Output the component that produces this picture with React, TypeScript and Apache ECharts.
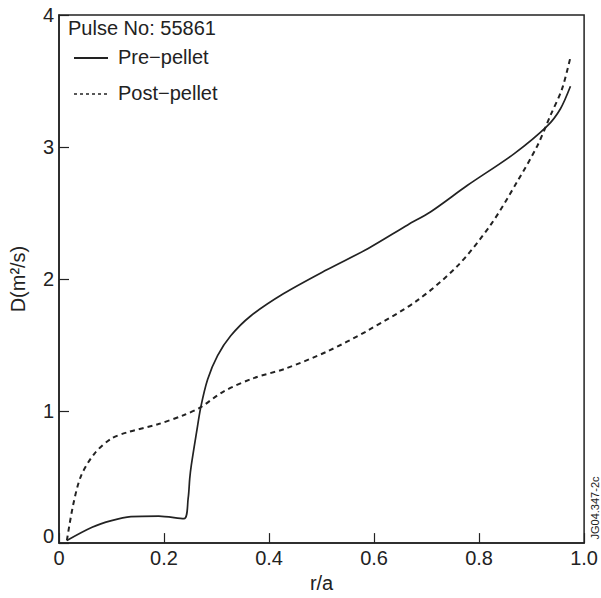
import React, { useEffect, useRef } from "react";
import * as echarts from "echarts";

const xTicks = [0, 0.2, 0.4, 0.6, 0.8, 1.0];
const yTicks = [0, 1, 2, 3, 4];

const preX = [0.015, 0.063, 0.1, 0.137, 0.19, 0.238, 0.246, 0.249, 0.252, 0.262, 0.27, 0.283, 0.302, 0.327, 0.365, 0.428, 0.51, 0.588, 0.664, 0.708, 0.778, 0.867, 0.93, 0.955, 0.974];
const preY = [0.02, 0.12, 0.17, 0.2, 0.205, 0.185, 0.34, 0.49, 0.59, 0.84, 1.03, 1.24, 1.42, 1.57, 1.72, 1.89, 2.07, 2.23, 2.41, 2.51, 2.71, 2.95, 3.16, 3.29, 3.46];

const postX = [0.015, 0.027, 0.042, 0.068, 0.099, 0.131, 0.188, 0.238, 0.27, 0.314, 0.371, 0.43, 0.51, 0.588, 0.683, 0.759, 0.822, 0.873, 0.911, 0.936, 0.958, 0.974];
const postY = [0.02, 0.29, 0.51, 0.68, 0.79, 0.84, 0.9, 0.97, 1.03, 1.15, 1.25, 1.32, 1.45, 1.61, 1.84, 2.1, 2.41, 2.74, 3.01, 3.24, 3.44, 3.68];

const pulseLabel = "Pulse No: 55861";
const seriesNames = ["Pre\u2212pellet", "Post\u2212pellet"];
const xName = "r/a";
const yName = "D(m\u00b2/s)";
const watermark = "JG04.347-2c";

const FONT = "Liberation Sans, Arial, Helvetica, sans-serif";
const INK = "#222";

export default function App() {
  const ref = useRef<HTMLDivElement>(null);
  useEffect(() => {
    if (!ref.current) return;
    const chart = echarts.init(ref.current, null, { renderer: "svg" });
    const pre = preX.map((x, i) => [x, preY[i]]);
    const post = postX.map((x, i) => [x, postY[i]]);
    chart.setOption({
      animation: false,
      backgroundColor: "#fff",
      textStyle: { fontFamily: FONT, color: INK },
      grid: { left: 59, right: 13, top: 15, bottom: 54, show: true, borderColor: INK, borderWidth: 1.5, backgroundColor: "transparent" },
      xAxis: {
        type: "value",
        min: xTicks[0],
        max: xTicks[xTicks.length - 1],
        interval: 0.2,
        name: xName,
        nameLocation: "middle",
        nameGap: 28,
        nameTextStyle: { fontSize: 20, color: INK, fontFamily: FONT },
        axisLine: { show: true, lineStyle: { color: INK, width: 1.5 } },
        axisTick: { show: true, inside: true, length: 10, lineStyle: { color: INK, width: 1.2 } },
        axisLabel: {
          fontSize: 20, color: INK, fontFamily: FONT, margin: 5,
          formatter: (v: number) => (v === 0 ? "0" : v.toFixed(1)),
        },
        splitLine: { show: false },
      },
      yAxis: {
        type: "value",
        min: yTicks[0],
        max: yTicks[yTicks.length - 1],
        interval: 1,
        name: yName,
        nameLocation: "middle",
        nameGap: 31,
        nameRotate: 90,
        nameTextStyle: { fontSize: 20, color: INK, fontFamily: FONT },
        axisLine: { show: true, lineStyle: { color: INK, width: 1.5 } },
        axisTick: { show: true, inside: true, length: 10, lineStyle: { color: INK, width: 1.2 } },
        axisLabel: {
          fontSize: 20, color: INK, fontFamily: FONT, margin: 5,
          formatter: (v: number) => (v === 0 ? "{z|0}" : String(v)),
          rich: { z: { fontSize: 20, color: INK, fontFamily: FONT, padding: [0, 0, 14, 0] } },
        },
        splitLine: { show: false },
      },
      series: [
        {
          name: seriesNames[0],
          type: "line",
          data: pre,
          showSymbol: false,
          smooth: 0.3,
          lineStyle: { color: INK, width: 1.7, type: "solid" },
        },
        {
          name: seriesNames[1],
          type: "line",
          data: post,
          showSymbol: false,
          smooth: 0.3,
          lineStyle: { color: INK, width: 2, type: [5, 4] },
        },
      ],
      graphic: [
        { type: "text", left: 68, top: 18, style: { text: pulseLabel, fontSize: 20, fontFamily: FONT, fill: INK } },
        { type: "line", shape: { x1: 74, y1: 58, x2: 108, y2: 58 }, style: { stroke: INK, lineWidth: 1.8 } },
        { type: "text", left: 118, top: 47, style: { text: seriesNames[0], fontSize: 20, fontFamily: FONT, fill: INK } },
        { type: "line", shape: { x1: 74, y1: 94, x2: 107, y2: 94 }, style: { stroke: INK, lineWidth: 1.5, lineDash: [3, 3] } },
        { type: "text", left: 118, top: 83, style: { text: seriesNames[1], fontSize: 20, fontFamily: FONT, fill: INK } },
        {
          type: "text", x: 595, y: 508, rotation: Math.PI / 2,
          style: { text: watermark, fontSize: 11, fontFamily: FONT, fill: INK, align: "center", verticalAlign: "middle" },
        },
      ],
    });
    return () => chart.dispose();
  }, []);
  return <div ref={ref} style={{ position: "fixed", left: 0, top: 0, width: 601, height: 598 }} />;
}
